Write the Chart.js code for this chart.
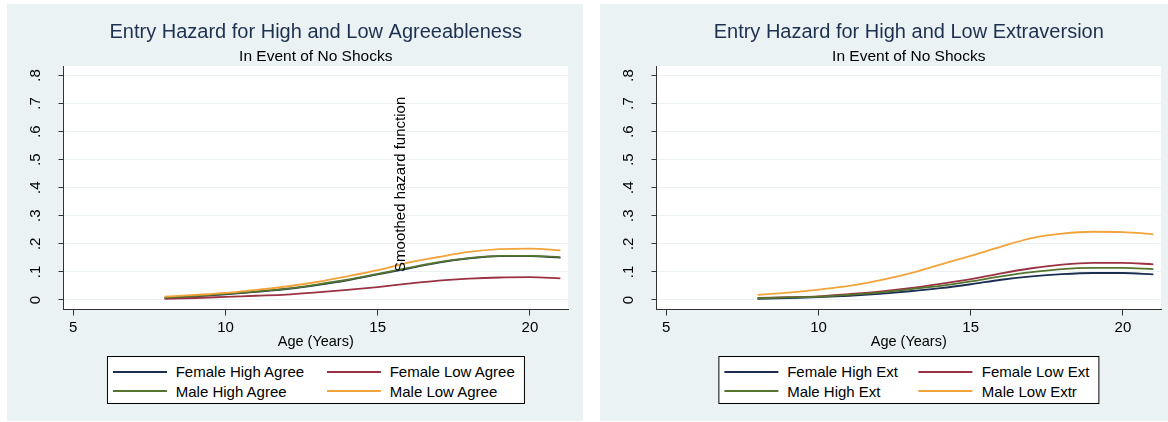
<!DOCTYPE html>
<html>
<head>
<meta charset="utf-8">
<script src="https://cdn.jsdelivr.net/npm/chart.js@4.4.1/dist/chart.umd.min.js"></script>
<style>
  html, body { margin: 0; padding: 0; background: #fff; width: 1168px; height: 422px; overflow: hidden; }
  .panel { position: absolute; top: 4px; width: 576px; height: 417px; background: #eaf2f3; }
  .panel canvas { position: absolute; left: 0; top: 0; }
  .legend {
    position: absolute; top: 352px; background: #fff; border: 1px solid #000;
    display: grid; padding: 5px 9px 2px 5px; transform: translateX(-50%);
    font-family: 'Liberation Sans', Arial, sans-serif; font-size: 15px; color: #000;
  }
  .legend .item { display: flex; align-items: center; height: 19.5px; white-space: nowrap; }
  .legend .swatch { display: block; flex: none; width: 54px; height: 2px; margin-right: 9px; }
</style>
</head>
<body>
<div class="panel" id="panelA" style="left:7px"><canvas id="chartA" width="576" height="417"></canvas><div class="legend" id="legendA"></div></div>
<div class="panel" id="panelB" style="left:600px"><canvas id="chartB" width="576" height="417"></canvas><div class="legend" id="legendB"></div></div>
<script>
// ages (years)
const ages = [8, 9, 10, 11, 12, 13, 14, 15, 16, 17, 18, 19, 20, 21];

// agreeableness panel
const agreeNames = ['Female High Agree', 'Female Low Agree', 'Male High Agree', 'Male Low Agree'];
const femHighAgree = [0.007, 0.013, 0.020, 0.029, 0.039, 0.053, 0.070, 0.091, 0.112, 0.133, 0.148, 0.156, 0.156, 0.151];
const femLowAgree  = [0.004, 0.007, 0.011, 0.015, 0.019, 0.027, 0.036, 0.046, 0.058, 0.069, 0.076, 0.080, 0.081, 0.077];
const maleHighAgree = [0.008, 0.014, 0.022, 0.030, 0.040, 0.055, 0.072, 0.093, 0.114, 0.135, 0.149, 0.157, 0.157, 0.152];
const maleLowAgree  = [0.012, 0.018, 0.025, 0.036, 0.048, 0.064, 0.084, 0.106, 0.133, 0.153, 0.171, 0.181, 0.183, 0.177];

// extraversion panel
const extNames = ['Female High Ext', 'Female Low Ext', 'Male High Ext', 'Male Low Extr'];
const femHighExt  = [0.004, 0.007, 0.010, 0.015, 0.022, 0.031, 0.042, 0.056, 0.072, 0.084, 0.092, 0.096, 0.096, 0.091];
const femLowExt   = [0.007, 0.010, 0.013, 0.021, 0.030, 0.042, 0.057, 0.074, 0.095, 0.113, 0.126, 0.132, 0.132, 0.127];
const maleHighExt = [0.006, 0.009, 0.012, 0.018, 0.026, 0.038, 0.050, 0.066, 0.084, 0.099, 0.110, 0.114, 0.114, 0.110];
const maleLowExt  = [0.018, 0.026, 0.037, 0.050, 0.070, 0.095, 0.126, 0.157, 0.190, 0.220, 0.236, 0.243, 0.242, 0.234];

// axes
const xTicks = [5, 10, 15, 20];
const yTicks = [0, 0.1, 0.2, 0.3, 0.4, 0.5, 0.6, 0.7, 0.8];
const yTickLabels = ['0', '.1', '.2', '.3', '.4', '.5', '.6', '.7', '.8'];

// note on the left plot, in data units
const noteText = 'Smoothed hazard function';
const notePos = { x: 15.75, y: 0.1 };

const lineColors = ['#1b2f52', '#9a3242', '#55752f', '#f2a33a'];
const FONT = "'Liberation Sans', Arial, sans-serif";

Chart.defaults.font.family = FONT;

const plotBg = {
    id: 'plotBg',
    beforeDraw(chart) {
        const { ctx, chartArea: a } = chart;
        ctx.save();
        ctx.fillStyle = '#fff';
        ctx.fillRect(a.left, a.top, a.right - a.left, a.bottom - a.top);
        ctx.restore();
    }
};

// stata-style y labels, turned to read bottom to top
const sideLabels = {
    id: 'sideLabels',
    afterDraw(chart) {
        const { ctx, scales, chartArea } = chart;
        const cx = chartArea.left - 28;
        ctx.save();
        ctx.font = '15px ' + FONT;
        ctx.fillStyle = '#000';
        ctx.textAlign = 'center';
        ctx.textBaseline = 'middle';
        yTicks.forEach((v, i) => {
            ctx.save();
            ctx.translate(cx, scales.y.getPixelForValue(v));
            ctx.rotate(-Math.PI / 2);
            ctx.fillText(yTickLabels[i], 0, 0);
            ctx.restore();
        });
        ctx.restore();
    }
};

const vertNote = {
    id: 'vertNote',
    afterDatasetsDraw(chart, args, opts) {
        if (!opts || !opts.text) return;
        const { ctx, scales } = chart;
        const px = scales.x.getPixelForValue(opts.x);
        const py = scales.y.getPixelForValue(opts.y);
        ctx.save();
        ctx.translate(px, py);
        ctx.rotate(-Math.PI / 2);
        ctx.font = '15px ' + FONT;
        ctx.fillStyle = '#000';
        ctx.textAlign = 'left';
        ctx.textBaseline = 'middle';
        ctx.fillText(opts.text, 0, 0);
        ctx.restore();
    }
};

function buildLegend(el, names, col1Width) {
    el.style.gridTemplateColumns = col1Width + 'px auto';
    names.forEach((name, i) => {
        const item = document.createElement('div');
        item.className = 'item';
        const sw = document.createElement('span');
        sw.className = 'swatch';
        sw.style.backgroundColor = lineColors[i];
        const tx = document.createElement('span');
        tx.textContent = name;
        item.appendChild(sw);
        item.appendChild(tx);
        el.appendChild(item);
    });
}

function makeChart(canvasId, legendId, title, names, series, note, col1Width) {
    const datasets = series.map((vals, i) => ({
        label: names[i],
        data: ages.map((a, j) => ({ x: a, y: vals[j] })),
        borderColor: lineColors[i],
        backgroundColor: lineColors[i],
        borderWidth: 1.8,
        pointRadius: 0,
        cubicInterpolationMode: 'monotone',
        fill: false,
        order: series.length - i
    }));

    const chart = new Chart(document.getElementById(canvasId), {
        type: 'line',
        data: { datasets: datasets },
        options: {
            responsive: false,
            animation: false,
            layout: { padding: { left: 0, right: 15, top: 0, bottom: 70.5 } },
            plugins: {
                legend: { display: false },
                tooltip: { enabled: false },
                title: {
                    display: true, text: title, fullSize: false, color: '#1e3050',
                    font: { size: 20, weight: 'normal' }, padding: { top: 16.3, bottom: 0 }
                },
                subtitle: {
                    display: true, text: 'In Event of No Shocks', fullSize: false, color: '#000',
                    font: { size: 15.5, weight: 'normal' }, padding: { top: 3.1, bottom: 0 }
                },
                vertNote: note
            },
            scales: {
                x: {
                    type: 'linear', min: 4.68, max: 21.25,
                    afterBuildTicks: s => { s.ticks = xTicks.map(v => ({ value: v })); },
                    afterFit: s => { s.height = 41; },
                    grid: { drawOnChartArea: false, tickLength: 6, tickColor: '#333' },
                    border: { color: '#333', width: 1 },
                    ticks: { color: '#000', font: { size: 15 }, padding: 3, maxRotation: 0 },
                    title: { display: true, text: 'Age (Years)', color: '#000', font: { size: 14.5 }, padding: 0 }
                },
                y: {
                    type: 'linear', min: -0.034, max: 0.8335,
                    afterBuildTicks: s => { s.ticks = yTicks.map(v => ({ value: v })); },
                    afterFit: s => { s.width = 56.5; },
                    grid: { color: '#eaf2f3', tickColor: '#333', tickLength: 5, lineWidth: 1 },
                    border: { color: '#333', width: 1 },
                    ticks: { color: 'rgba(0,0,0,0)', font: { size: 15 }, padding: 16 }
                }
            }
        },
        plugins: [plotBg, vertNote, sideLabels]
    });

    const lg = document.getElementById(legendId);
    buildLegend(lg, names, col1Width);
    lg.style.left = ((chart.chartArea.left + chart.chartArea.right) / 2) + 'px';
    return chart;
}

makeChart('chartA', 'legendA', 'Entry Hazard for High and Low Agreeableness', agreeNames,
    [femHighAgree, femLowAgree, maleHighAgree, maleLowAgree],
    { text: noteText, x: notePos.x, y: notePos.y }, 214);

makeChart('chartB', 'legendB', 'Entry Hazard for High and Low Extraversion', extNames,
    [femHighExt, femLowExt, maleHighExt, maleLowExt], null, 194.7);
</script>
</body>
</html>
